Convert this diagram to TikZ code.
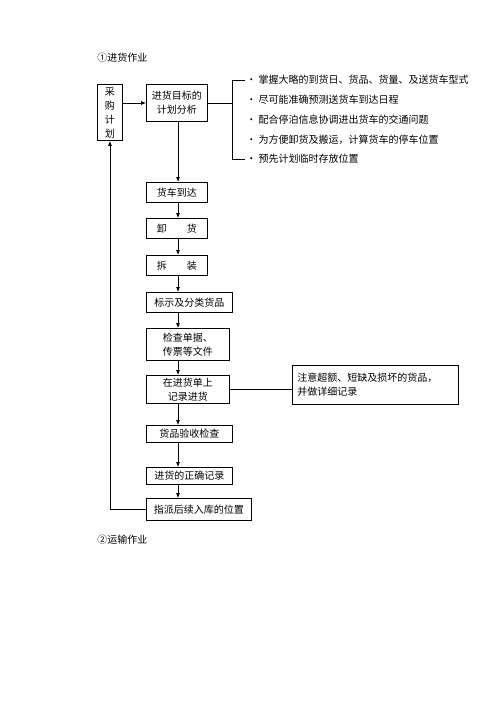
\documentclass[tikz,border=0pt]{standalone}
\usepackage{fontspec}
\setmainfont{Liberation Serif}
\newfontfamily\cjk{Noto Sans CJK SC}
\usetikzlibrary{calc,positioning}
\usetikzlibrary{arrows.meta}

\begin{document}
\begin{tikzpicture}[%
    x=1pt, y=-1pt,
    text=black,
    node font=\cjk\fontsize{10}{14}\selectfont,
    >={Latex[length=5pt,width=4pt]},
    line width=0.7pt,
    box/.style={rectangle, draw, line width=0.9pt, anchor=north west,
      align=center, inner sep=1pt},
    bullet/.style={anchor=west, inner sep=1pt}]

  \useasboundingbox[fill=white] (0,0) rectangle (500,707);

  %
  \node (H1) at (97,58) [anchor=west, inner sep=0] {①进货作业};

  \node (PUR) at (97,84) [box, minimum width=25pt, minimum height=56pt]
        {采\\购\\计\\划};
  \node (PLN) at (146,84) [box, minimum width=61pt, minimum height=37pt]
        {进货目标的\\计划分析};

  \coordinate (COL) at (178,0);
  \coordinate (BR) at (232,0);

  \draw[->] (PUR.east |- PLN) -- (PLN.west);

  % --- goals of planning ----------------

  \node (B1) at (245,80) [bullet] {• 掌握大略的到货日、货品、货量、及送货车型式};
  \node (B2) at (245,100) [bullet] {• 尽可能准确预测送货车到达日程};
  \node (B3) at (245,120) [bullet] {• 配合停泊信息协调进出货车的交通问题};
  \node (B4) at (245,140) [bullet] {• 为方便卸货及搬运，计算货车的停车位置};
  \node (B5) at (245,159) [bullet] {• 预先计划临时存放位置};

  \draw (PLN.east) -- (PLN.east -| BR);
  \draw (B1.west) -- (B1.west -| BR) -- (B5.west -| BR) -- (B5.west);

  % --- receiving steps ------------------

  \node (ARR) at (146,182) [box, minimum width=61pt, minimum height=20pt]
        {货车到达};
  \node (UNL) at (146,218) [box, minimum width=61pt, minimum height=20pt]
        {卸\hspace{2em}货};
  \node (UNP) at (146,255) [box, minimum width=61pt, minimum height=20pt]
        {拆\hspace{2em}装};
  \node (SRT) at (146,292) [box, minimum width=86pt, minimum height=20pt]
        {标示及分类货品};
  \node (CHK) at (146,328) [box, minimum width=83pt, minimum height=32pt]
        {检查单据、\\传票等文件};
  \node (REC) at (146,375) [box, minimum width=83pt, minimum height=28pt]
        {在进货单上\\记录进货};
  \node (INS) at (146,425) [box, minimum width=86pt, minimum height=17pt]
        {货品验收检查};
  \node (COR) at (146,467) [box, minimum width=86pt, minimum height=17pt]
        {进货的正确记录};
  \node (ASN) at (146,498) [box, minimum width=105pt, minimum height=22pt]
        {指派后续入库的位置};

  \draw[->] (PLN.south -| COL) -- (ARR.north -| COL);
  \draw[->] (ARR.south -| COL) -- (UNL.north -| COL);
  \draw[->] (UNL.south -| COL) -- (UNP.north -| COL);
  \draw[->] (UNP.south -| COL) -- (SRT.north -| COL);
  \draw[->] (SRT.south -| COL) -- (CHK.north -| COL);
  \draw[->] (CHK.south -| COL) -- (REC.north -| COL);
  \draw[->] (REC.south -| COL) -- (INS.north -| COL);
  \draw[->] (INS.south -| COL) -- (COR.north -| COL);
  \draw[->] (COR.south -| COL) -- (ASN.north -| COL);

  % note on recording
  \node (NOTE) at (292,365) [box, align=left, text width=156pt,
    inner sep=5pt, minimum height=39pt]
        {注意超额、短缺及损坏的货品，\\并做详细记录};
  \draw (REC.east) -- (REC.east -| NOTE.west);

  % back to purchasing
  \draw[->] (ASN.west) -| (PUR.south);

  \node (H2) at (97,540) [anchor=west, inner sep=0] {②运输作业};
\end{tikzpicture}
\end{document}
